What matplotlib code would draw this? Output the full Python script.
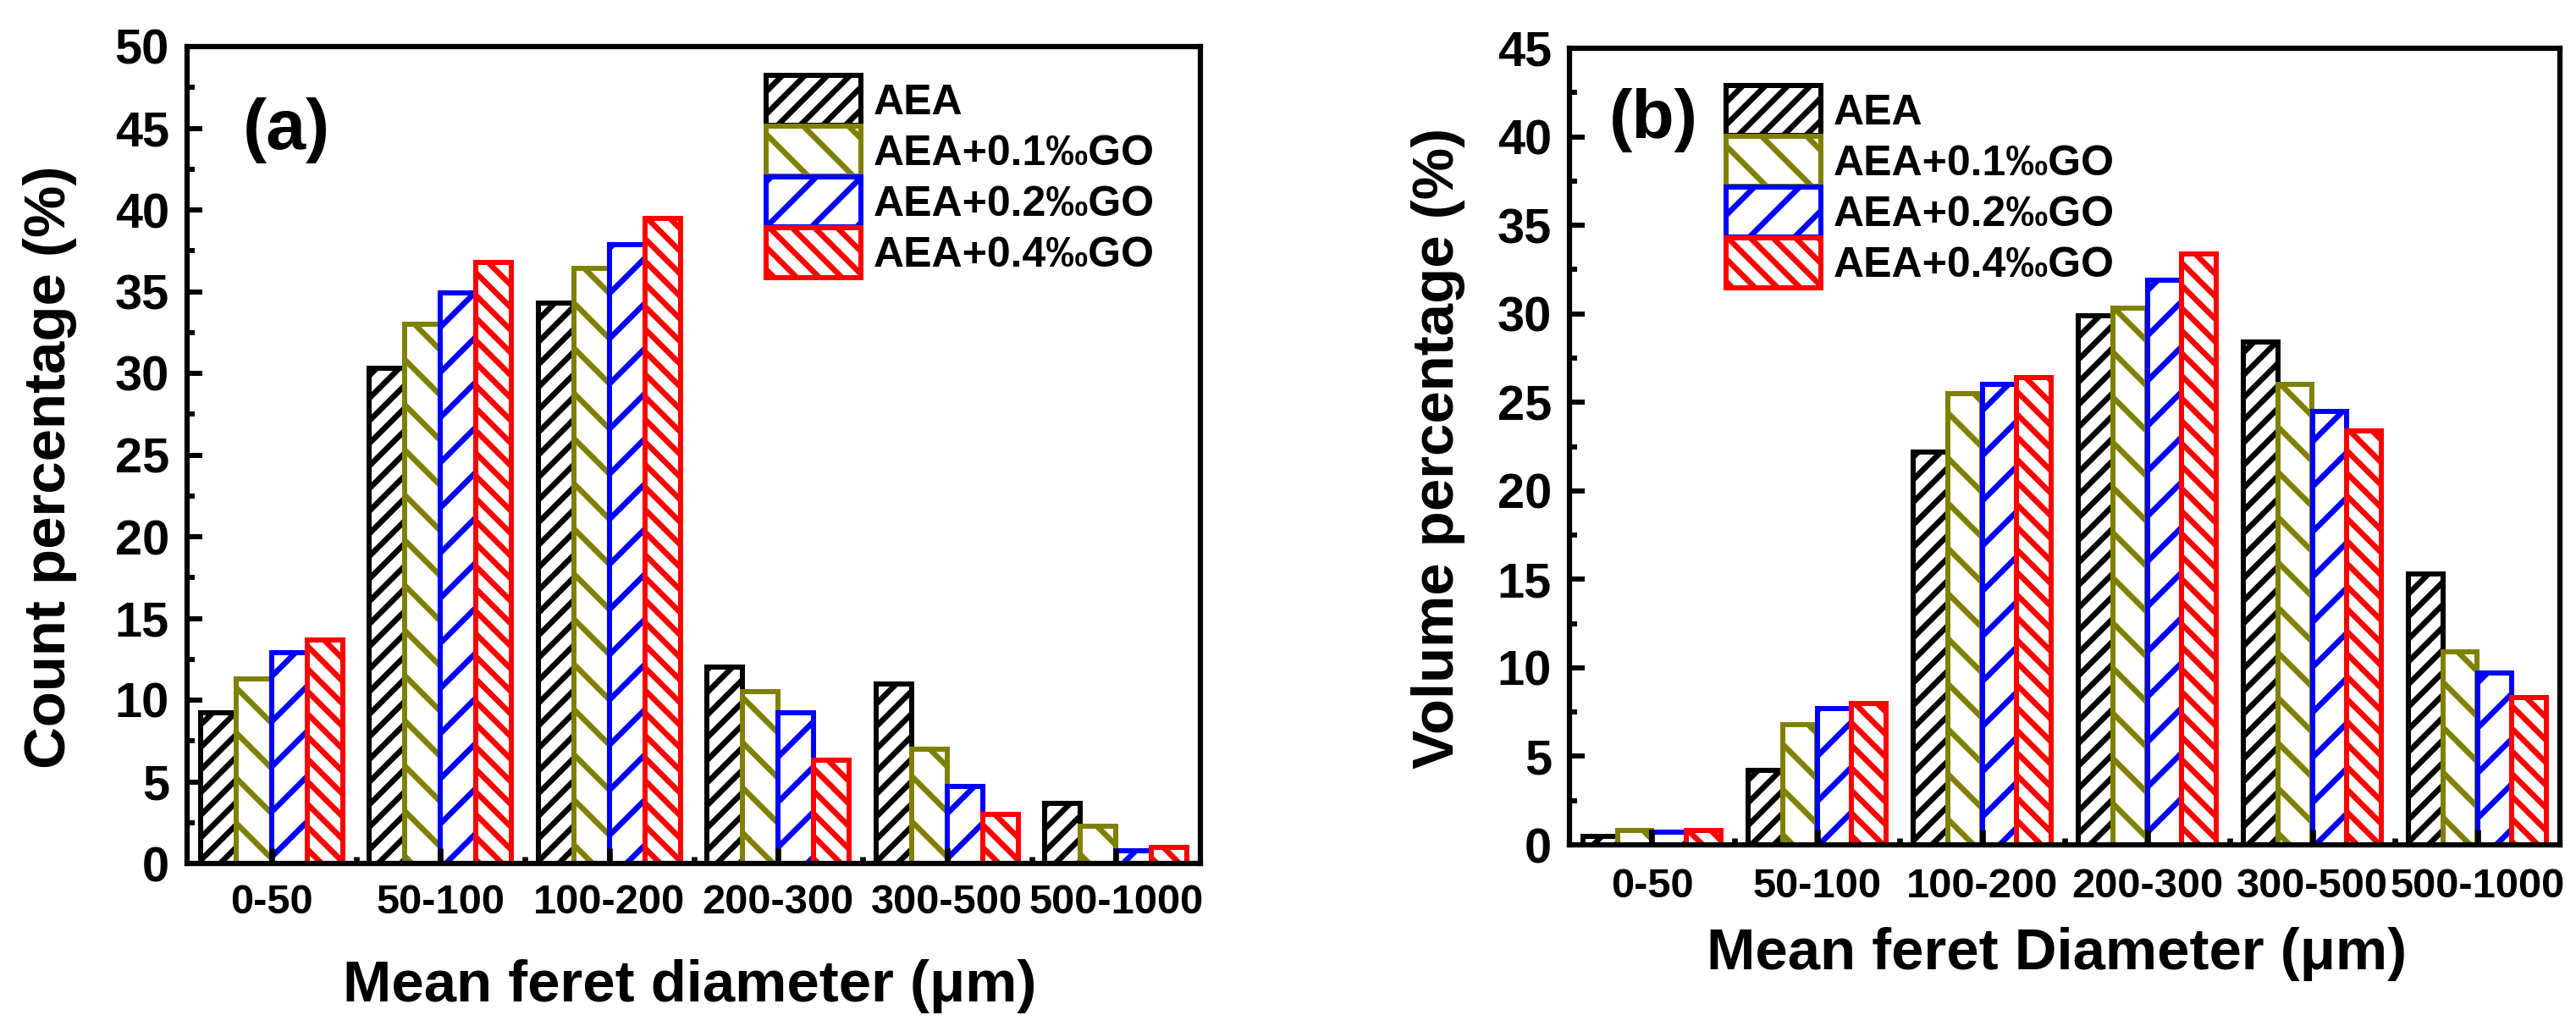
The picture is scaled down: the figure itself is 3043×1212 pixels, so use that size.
import numpy as np
import matplotlib.pyplot as plt
from matplotlib.ticker import MultipleLocator, FixedLocator

plt.rcParams['font.family'] = ['Liberation Sans', 'DejaVu Sans']
plt.rcParams['font.weight'] = 'bold'
plt.rcParams['hatch.linewidth'] = 3.0

# data
categories = ['0-50', '50-100', '100-200', '200-300', '300-500', '500-1000']
series = ['AEA', 'AEA+0.1‰GO', 'AEA+0.2‰GO', 'AEA+0.4‰GO']
colors = ['#000000', '#808000', '#0000FF', '#FF0000']
hatches = ['//', '\\', '/', '\\\\']

count_aea = [9.2, 30.3, 34.3, 12.0, 11.0, 3.7]
count_go01 = [11.3, 33.0, 36.4, 10.5, 7.0, 2.3]
count_go02 = [12.9, 34.9, 37.9, 9.2, 4.7, 0.8]
count_go04 = [13.7, 36.8, 39.5, 6.3, 3.0, 1.0]

vol_aea = [0.5, 4.2, 22.2, 29.9, 28.4, 15.3]
vol_go01 = [0.8, 6.8, 25.5, 30.3, 26.0, 10.9]
vol_go02 = [0.7, 7.7, 26.0, 31.9, 24.5, 9.7]
vol_go04 = [0.8, 8.0, 26.4, 33.4, 23.4, 8.3]

W, H, DPI = 3043, 1212, 160
fig = plt.figure(figsize=(W / DPI, H / DPI), dpi=DPI)


def px_axes(l, t, r, b):
    return fig.add_axes([l / W, 1 - b / H, (r - l) / W, (b - t) / H])


def draw_panel(ax, data, ymax, legend_xy, xpad):
    x = np.arange(len(categories))
    w = 0.21
    for i, vals in enumerate(data):
        ax.bar(x + (i - 1.5) * w, vals, w, facecolor='white',
               edgecolor=colors[i], hatch=hatches[i], linewidth=2.7,
               label=series[i])
    ax.set_xlim(-0.5, len(categories) - 0.5)
    ax.set_ylim(0, ymax)
    ax.set_xticks(x)
    ax.set_xticklabels(categories)
    ax.xaxis.set_minor_locator(FixedLocator(x[:-1] + 0.5))
    ax.yaxis.set_major_locator(MultipleLocator(5))
    ax.yaxis.set_minor_locator(MultipleLocator(2.5))
    for sp in ax.spines.values():
        sp.set_linewidth(2.8)
    ax.tick_params(axis='y', which='major', direction='in', length=8,
                   width=2.7, labelsize=26, pad=9.5)
    ax.tick_params(axis='y', which='minor', direction='in', length=4,
                   width=2.7)
    ax.tick_params(axis='x', which='major', direction='in', length=8,
                   width=3, labelsize=22, pad=xpad)
    ax.tick_params(axis='x', which='minor', direction='in', length=3.5,
                   width=3)
    ax.legend(loc='upper left', bbox_to_anchor=legend_xy, frameon=False,
              fontsize=22.5, handlelength=2.24, handleheight=1.44,
              handletextpad=0.3, labelspacing=0.02, borderpad=0,
              borderaxespad=0)


ax1 = px_axes(221, 55, 1418, 1020)
draw_panel(ax1, [count_aea, count_go01, count_go02, count_go04], 50,
           (0.5714, 0.9648), 11)

ax2 = px_axes(1854, 57, 3024, 998)
draw_panel(ax2, [vol_aea, vol_go01, vol_go02, vol_go04], 45,
           (0.158, 0.953), 12)

# axis titles and panel letters
fig.text(59 / W, 1 - 552 / H, 'Count percentage (%)', rotation=90,
         ha='center', va='center', fontsize=31)
fig.text(1699 / W, 1 - 529 / H, 'Volume percentage (%)', rotation=90,
         ha='center', va='center', fontsize=31)
fig.text(815 / W, 1 - 1183 / H, 'Mean feret diameter (μm)',
         ha='center', va='baseline', fontsize=31)
fig.text(2430 / W, 1 - 1145 / H, 'Mean feret Diameter (μm)',
         ha='center', va='baseline', fontsize=31)
fig.text(287 / W, 1 - 154 / H, '(a)', ha='left', va='center', fontsize=38)
fig.text(1901 / W, 1 - 142 / H, '(b)', ha='left', va='center', fontsize=37)

fig.savefig('out.png', dpi=DPI, facecolor='white')
